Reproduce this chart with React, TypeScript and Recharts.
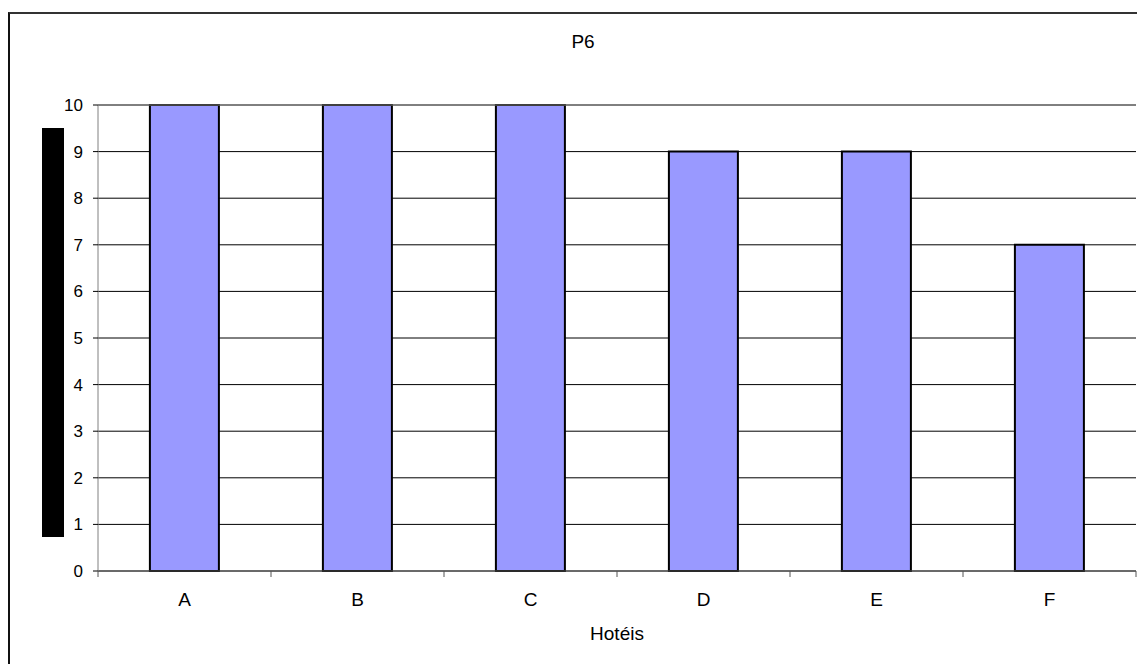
import React from 'react';
import { BarChart, Bar, XAxis, YAxis, CartesianGrid, ReferenceLine } from 'recharts';

const hotels = ['A', 'B', 'C', 'D', 'E', 'F'];
const scores = [10, 10, 10, 9, 9, 7];
const yTicks = [0, 1, 2, 3, 4, 5, 6, 7, 8, 9, 10];

const data = hotels.map((h, i) => ({ hotel: h, value: scores[i] }));

const FONT = '"Liberation Sans", Arial, sans-serif';
const FS = 19;
const Y_FS = 17;
const X_TICK_SIZE = 6;
const X_TICK_MARGIN = 16;

// Solid block standing in for the vertical axis caption
const AxisBlock = (props: any) => {
  const vb = props.viewBox || {};
  return <rect x={(vb.x ?? 0) + 34} y={120} width={22} height={409} fill="#000" />;
};

// Category label with tick marks drawn on the band boundaries
const BoundaryTick = (props: any) => {
  const { x, y, payload, index, visibleTicksCount } = props;
  const half = payload?.offset ?? 0;
  const axisY = y - X_TICK_SIZE - X_TICK_MARGIN;
  const last = index === (visibleTicksCount ?? 0) - 1;
  return (
    <g>
      <line x1={x - half} x2={x - half} y1={axisY} y2={axisY + X_TICK_SIZE} stroke="#555" />
      {last && <line x1={x + half} x2={x + half} y1={axisY} y2={axisY + X_TICK_SIZE} stroke="#555" />}
      <text x={x} y={y} dy="0.71em" textAnchor="middle" fontFamily={FONT} fontSize={FS} fill="#000">
        {payload.value}
      </text>
    </g>
  );
};

export default function App() {
  return (
    <div
      style={{
        width: 1137,
        height: 652,
        marginTop: 4,
        borderTop: '2px solid #333',
        borderLeft: '2px solid #111',
        boxSizing: 'border-box',
        position: 'relative',
        fontFamily: FONT,
      }}
    >
      <div style={{ position: 'absolute', left: -2, top: -6 }}>
        <BarChart
          width={1137}
          height={656}
          data={data}
          margin={{ top: 97, right: 9, left: 0, bottom: 0 }}
          barCategoryGap="30%"
        >
          <text x={575} y={40} textAnchor="middle" fontFamily={FONT} fontSize={FS} fill="#000">
            P6
          </text>
          <CartesianGrid vertical={false} stroke="#000" strokeWidth={1} />
          <ReferenceLine y={10} stroke="#808080" strokeWidth={1} />
          <XAxis
            dataKey="hotel"
            height={93}
            stroke="#555"
            tickLine={false}
            tickSize={X_TICK_SIZE}
            tickMargin={X_TICK_MARGIN}
            tick={<BoundaryTick />}
            interval={0}
            label={{ value: 'Hotéis', position: 'insideBottom', offset: 24, fill: '#000', fontSize: FS, fontFamily: FONT }}
          />
          <YAxis
            width={90}
            domain={[0, 10]}
            ticks={yTicks}
            interval={0}
            stroke="#808080"
            tickLine={{ stroke: '#000' }}
            tickSize={5}
            tickMargin={10}
            tick={{ fill: '#000', fontSize: Y_FS, fontFamily: FONT }}
            label={<AxisBlock />}
          />
          <Bar dataKey="value" fill="#9999FF" stroke="#000" strokeWidth={2} isAnimationActive={false} />
        </BarChart>
      </div>
    </div>
  );
}
